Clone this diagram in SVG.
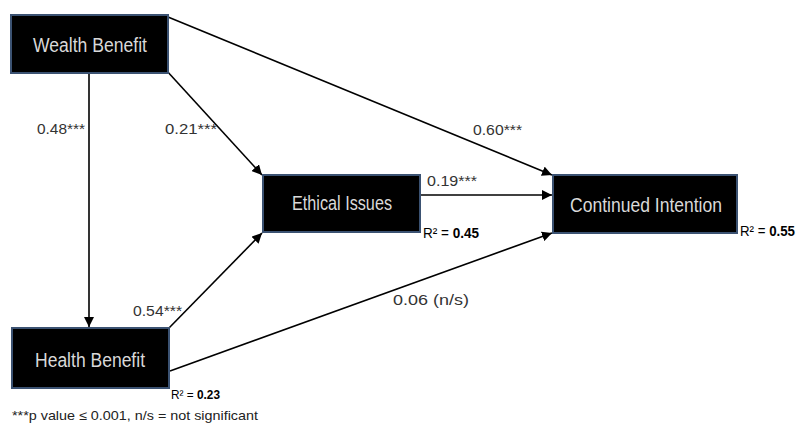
<svg xmlns="http://www.w3.org/2000/svg" width="796" height="427" viewBox="0 0 796 427">
<style>
.box{fill:#000;stroke:#3b5272;stroke-width:2}
.nt{font-family:"Liberation Sans",Arial,sans-serif;font-size:20px;fill:#d9d9d9;text-anchor:middle}
.lb{font-family:"Liberation Sans",Arial,sans-serif;font-size:14px;fill:#333}
.r2{font-family:"Liberation Sans",Arial,sans-serif;font-size:14px;fill:#000}
.ln{stroke:#000;stroke-width:1.6;fill:none;marker-end:url(#ah)}
</style>
<defs>
<marker id="ah" viewBox="0 0 10 10" refX="10" refY="5" markerWidth="10" markerHeight="10" markerUnits="userSpaceOnUse" orient="auto">
<path d="M0,0 L10,5 L0,10 Z" fill="#000"/>
</marker>
</defs>
<rect width="796" height="427" fill="#fff"/>
<g id="connectors">
<line class="ln" x1="89" y1="73" x2="89" y2="327"/>
<line class="ln" x1="166" y1="70" x2="262" y2="175"/>
<line class="ln" x1="168" y1="17" x2="552" y2="175"/>
<line class="ln" x1="421" y1="195" x2="552" y2="195"/>
<line class="ln" x1="169" y1="328" x2="262" y2="233"/>
<line class="ln" x1="170" y1="371" x2="552" y2="233"/>
</g>
<g id="wealth">
<rect class="box" x="11" y="15" width="157" height="58"/>
<text class="nt" x="90" y="52" textLength="114" lengthAdjust="spacingAndGlyphs">Wealth Benefit</text>
</g>
<g id="ethical">
<rect class="box" x="263" y="175" width="157" height="57"/>
<text class="nt" x="342" y="210" textLength="100" lengthAdjust="spacingAndGlyphs">Ethical Issues</text>
<text class="r2" x="423" y="238" textLength="56" lengthAdjust="spacingAndGlyphs">R² = <tspan font-weight="bold">0.45</tspan></text>
</g>
<g id="continued">
<rect class="box" x="553" y="175" width="184" height="58"/>
<text class="nt" x="646" y="212" textLength="152" lengthAdjust="spacingAndGlyphs">Continued Intention</text>
<text class="r2" x="740" y="236" textLength="55" lengthAdjust="spacingAndGlyphs">R² = <tspan font-weight="bold">0.55</tspan></text>
</g>
<g id="health">
<rect class="box" x="12" y="328" width="157" height="60"/>
<text class="nt" x="90" y="367" textLength="110" lengthAdjust="spacingAndGlyphs">Health Benefit</text>
<text class="r2" x="171" y="399" textLength="49" lengthAdjust="spacingAndGlyphs" style="font-size:13px">R² = <tspan font-weight="bold">0.23</tspan></text>
</g>
<g id="labels">
<text class="lb" x="37" y="134" textLength="48" lengthAdjust="spacingAndGlyphs">0.48***</text>
<text class="lb" x="165" y="134" textLength="52" lengthAdjust="spacingAndGlyphs">0.21***</text>
<text class="lb" x="473" y="135" textLength="49" lengthAdjust="spacingAndGlyphs">0.60***</text>
<text class="lb" x="427" y="186" textLength="50" lengthAdjust="spacingAndGlyphs">0.19***</text>
<text class="lb" x="133" y="316" textLength="49" lengthAdjust="spacingAndGlyphs">0.54***</text>
<text class="lb" x="393" y="305" textLength="76" lengthAdjust="spacingAndGlyphs">0.06 (n/s)</text>
<text class="lb" x="12" y="420" textLength="246" lengthAdjust="spacingAndGlyphs" style="fill:#222;font-size:13px">***p value ≤ 0.001, n/s = not significant</text>
</g>
</svg>
